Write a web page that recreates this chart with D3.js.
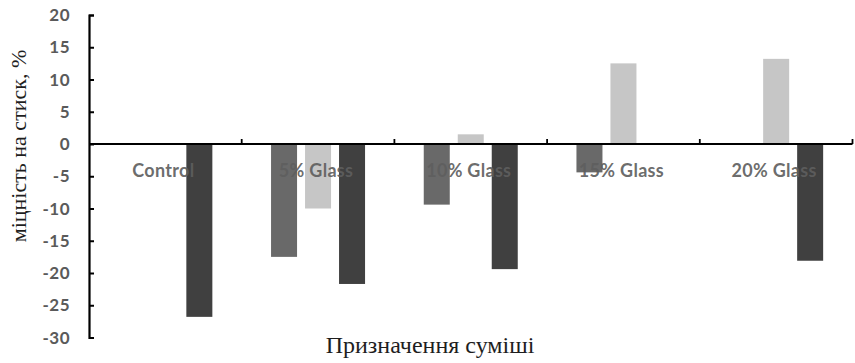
<!DOCTYPE html>
<html>
<head>
<meta charset="utf-8">
<script src="https://cdn.jsdelivr.net/npm/d3@7"></script>
<style>
  html, body { margin: 0; padding: 0; background: #fff; }
  svg { display: block; }
</style>
</head>
<body>
<svg id="chart" width="855" height="363"></svg>
<script>
// Mix designations along the category axis
const categories = ["Control", "5% Glass", "10% Glass", "15% Glass", "20% Glass"];
// Change in compressive strength, % (null = no bar)
const seriesA = [null, -17.5, -9.4, -4.4, null];
const seriesB = [null, -10.0, 1.5, 12.5, 13.2];
const seriesC = [-26.8, -21.7, -19.4, null, -18.1];
const seriesNames = ["A", "B", "C"];
const seriesColors = ["#696969", "#c6c6c6", "#404040"];
const yTicks = [20, 15, 10, 5, 0, -5, -10, -15, -20, -25, -30];

const svg = d3.select("#chart");
const plotLeft = 89, plotRight = 852.5, plotTop = 15, plotBottom = 337.5;

const x = d3.scaleBand().domain(categories).range([plotLeft, plotRight]).padding(0);
const y = d3.scaleLinear().domain([-30, 20]).range([plotBottom, plotTop]);
const inner = d3.scaleBand().domain(seriesNames)
  .range([-51, 51]).paddingInner(0.235).paddingOuter(0.1176);

const allSeries = [seriesA, seriesB, seriesC];
const rows = [];
allSeries.forEach((vals, si) => {
  vals.forEach((v, ci) => {
    if (v !== null) rows.push({ s: seriesNames[si], c: categories[ci], v, color: seriesColors[si] });
  });
});

// Bars
svg.append("g").selectAll("rect").data(rows).join("rect")
  .attr("x", d => x(d.c) + x.bandwidth() / 2 + inner(d.s))
  .attr("width", inner.bandwidth())
  .attr("y", d => y(Math.max(0, d.v)))
  .attr("height", d => Math.abs(y(d.v) - y(0)))
  .attr("fill", d => d.color);

// Category labels sitting just below the zero line (drawn over the bars)
svg.append("g").selectAll("text").data(categories).join("text")
  .attr("x", d => x(d) + x.bandwidth() / 2 - 2)
  .attr("y", y(0) + 33)
  .attr("text-anchor", "middle")
  .attr("font-family", "Lato, 'Open Sans', sans-serif")
  .attr("font-weight", "bold")
  .attr("font-size", 18)
  .attr("letter-spacing", 0.3)
  .attr("fill", "#5e5e5e")
  .attr("fill-opacity", 0.92)
  .text(d => d);

// Horizontal axis at zero with boundary ticks pointing up
const xAxis = svg.append("g");
xAxis.append("line")
  .attr("x1", plotLeft).attr("x2", plotRight)
  .attr("y1", y(0)).attr("y2", y(0))
  .attr("stroke", "#000").attr("stroke-width", 1.8);
const bounds = categories.map(c => x(c)).concat([plotRight]).slice(1);
xAxis.selectAll("line.tk").data(bounds).join("line")
  .attr("class", "tk")
  .attr("x1", d => d).attr("x2", d => d)
  .attr("y1", y(0)).attr("y2", y(0) - 5)
  .attr("stroke", "#000").attr("stroke-width", 1.8);

// Vertical axis with inside ticks
const yAxis = d3.axisRight(y).tickValues(yTicks).tickSize(5).tickFormat("");
const gy = svg.append("g").attr("transform", `translate(${plotLeft},0)`).call(yAxis);
gy.select(".domain").attr("stroke", "#000").attr("stroke-width", 2.2);
gy.selectAll(".tick line").attr("stroke", "#000").attr("stroke-width", 2);

svg.append("g").selectAll("text").data(yTicks).join("text")
  .attr("x", plotLeft - 19)
  .attr("y", d => y(d))
  .attr("dy", "0.36em")
  .attr("text-anchor", "end")
  .attr("font-family", "Lato, 'Open Sans', sans-serif")
  .attr("font-weight", "bold")
  .attr("font-size", 17)
  .attr("letter-spacing", 0.5)
  .attr("fill", "#5a5a5a")
  .text(d => d);

// Axis titles
svg.append("text")
  .attr("transform", `translate(18,146) rotate(-90)`)
  .attr("dy", "0.35em")
  .attr("text-anchor", "middle")
  .attr("font-family", "'Liberation Serif', 'DejaVu Serif', serif")
  .attr("font-size", 22)
  .attr("fill", "#1e1e1e")
  .text("міцність на стиск, %");

svg.append("text")
  .attr("x", 430)
  .attr("y", 353)
  .attr("text-anchor", "middle")
  .attr("font-family", "'Liberation Serif', 'DejaVu Serif', serif")
  .attr("font-size", 24)
  .attr("fill", "#1e1e1e")
  .text("Призначення суміші");
</script>
</body>
</html>
